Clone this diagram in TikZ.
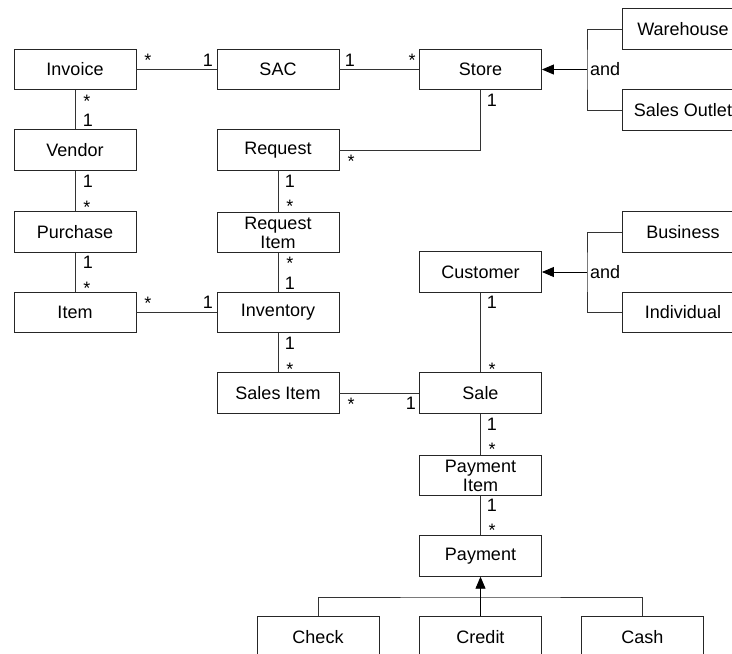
\documentclass[tikz,border=0pt]{standalone}
\usepackage{fontspec}
\setmainfont{Liberation Sans}
\usetikzlibrary{arrows.meta}
\begin{document}
\begin{tikzpicture}[x=1pt,y=-1pt,
  every node/.style={font=\fontsize{18}{21}\selectfont},
  entity/.style={draw=black!85, line width=0.9pt, fill=white, minimum width=122pt,
    minimum height=40.5pt, inner sep=0pt, align=center},
  link/.style={draw=black!80, line width=0.9pt},
  isa/.style={draw=black, line width=0.9pt, -{Triangle[length=12pt,width=10pt]}},
  mult/.style={anchor=base, inner sep=0pt}]
\useasboundingbox (0,0) rectangle (732,654);
\clip (0,0) rectangle (732,654);

% classes
\node[entity] (Invoice)   at (75,69.5)   {Invoice};
\node[entity] (SAC)       at (278,69.5)  {SAC};
\node[entity] (Store)     at (480.5,69.5) {Store};
\node[entity] (Warehouse) at (683,29)    {Warehouse};
\node[entity] (Outlet)    at (683,110)   {Sales Outlet};
\node[entity] (Vendor)    at (75,150)    {Vendor};
\node[entity] (Request)   at (278,150)   {Request};
\node[entity] (Purchase)  at (75,232)    {Purchase};
\node[entity] (ReqItem)   at (278,232.5) {Request\\[-2pt]Item};
\node[entity] (Business)  at (683,232)   {Business};
\node[entity] (Customer)  at (480.5,272) {Customer};
\node[entity] (Item)      at (75,312.5)  {Item};
\node[entity] (Inventory) at (278,312.5) {Inventory};
\node[entity] (Individual) at (683,312.5) {Individual};
\node[entity] (SalesItem) at (278,393)   {Sales Item};
\node[entity] (Sale)      at (480.5,393) {Sale};
\node[entity] (PayItem)   at (480.5,475.5) {Payment\\[-2pt]Item};
\node[entity] (Payment)   at (480.5,556) {Payment};
\node[entity] (Check)     at (318,637)   {Check};
\node[entity] (Credit)    at (480.5,637) {Credit};
\node[entity] (Cash)      at (642.5,637) {Cash};

% associations
\draw[link] (Invoice.east) -- (SAC.west);
\draw[link] (SAC.east) -- (Store.west);
\draw[link] (Store.south) |- (Request.east);
\draw[link] (Invoice.south) -- (Vendor.north);
\draw[link] (Vendor.south) -- (Purchase.north);
\draw[link] (Purchase.south) -- (Item.north);
\draw[link] (Request.south) -- (ReqItem.north);
\draw[link] (ReqItem.south) -- (Inventory.north);
\draw[link] (Item.east) -- (Inventory.west);
\draw[link] (Inventory.south) -- (SalesItem.north);
\draw[link] (SalesItem.east) -- (Sale.west);
\draw[link] (Customer.south) -- (Sale.north);
\draw[link] (Sale.south) -- (PayItem.north);
\draw[link] (PayItem.south) -- (Payment.north);

% generalisations
\coordinate (sj) at (587,69.5);
\draw[link] (Warehouse.west) -| (sj) |- (Outlet.west);
\draw[isa] (sj) -- (Store.east);
\node[anchor=west, inner sep=0pt] (and1) at ([xshift=3pt]sj) {and};

\coordinate (cj) at (587,272);
\draw[link] (Business.west) -| (cj) |- (Individual.west);
\draw[isa] (cj) -- (Customer.east);
\node[anchor=west, inner sep=0pt] (and2) at ([xshift=3pt]cj) {and};

\coordinate (pj) at (480.5,597);
\draw[link] (Check.north) |- (pj) -| (Cash.north);
\draw[isa] (Credit.north) -- (Payment.south);

% multiplicities
\node[mult] (m1)  at (148,66)  {*};
\node[mult] (m2)  at (208,66)  {1};
\node[mult] (m3)  at (350,66)  {1};
\node[mult] (m4)  at (412,66)  {*};
\node[mult] (m5)  at (492,106) {1};
\node[mult] (m6)  at (351,167) {*};
\node[mult] (m7)  at (87,107)  {*};
\node[mult] (m8)  at (88,126)  {1};
\node[mult] (m9)  at (88,187)  {1};
\node[mult] (m10) at (87,213)  {*};
\node[mult] (m11) at (290,187) {1};
\node[mult] (m12) at (290,212) {*};
\node[mult] (m13) at (88,268)  {1};
\node[mult] (m14) at (87,294)  {*};
\node[mult] (m15) at (290,269) {*};
\node[mult] (m16) at (290,289) {1};
\node[mult] (m17) at (148,309) {*};
\node[mult] (m18) at (208,308) {1};
\node[mult] (m19) at (290,349) {1};
\node[mult] (m20) at (290,375) {*};
\node[mult] (m21) at (351,410) {*};
\node[mult] (m22) at (411,409) {1};
\node[mult] (m23) at (492,308) {1};
\node[mult] (m24) at (492,375) {*};
\node[mult] (m25) at (492,430) {1};
\node[mult] (m26) at (492,455) {*};
\node[mult] (m27) at (492,511) {1};
\node[mult] (m28) at (492,536) {*};
\end{tikzpicture}
\end{document}
